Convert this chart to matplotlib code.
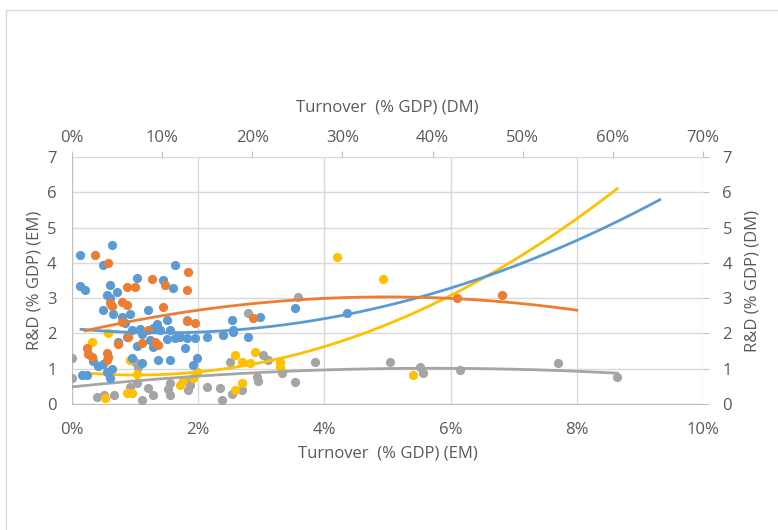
import numpy as np
import matplotlib
matplotlib.use("Agg")
import matplotlib.pyplot as plt
from matplotlib.patches import Rectangle
from matplotlib.ticker import FuncFormatter, MultipleLocator

plt.rcParams['font.family'] = ['Open Sans', 'DejaVu Sans']

# --- data ---
# DM series (top / right axes): turnover % GDP, R&D % GDP
blue_x = [0.89, 4.44, 3.44, 11.43, 7.21, 10.10, 0.89, 1.44, 4.22, 11.2, 3.88, 4.22, 5.0,
          3.44, 4.55, 5.55, 6.43, 8.43, 9.43, 10.54, 5.88, 6.66, 7.54, 8.99, 9.76, 10.87,
          11.98, 10.54, 8.65, 7.77, 6.10, 12.76, 13.65, 14.98, 16.75, 17.86, 17.75, 7.21,
          8.99, 12.54, 13.87, 10.87, 9.54, 6.66, 2.33, 2.88, 3.44, 4.44, 3.88, 1.11, 1.66,
          4.22, 13.43, 7.77, 11.43, 5.10, 19.53, 20.86, 24.74, 30.51, 17.86]
blue_y = [4.22, 4.50, 3.94, 3.94, 3.57, 3.51, 3.34, 3.23, 3.37, 3.29, 3.09, 3.00, 3.17,
          2.66, 2.55, 2.46, 2.55, 2.66, 2.27, 2.38, 2.29, 2.10, 2.12, 2.15, 2.10, 2.10,
          1.90, 1.84, 1.81, 1.98, 1.90, 1.87, 1.87, 1.90, 1.95, 2.10, 2.38, 1.64,
          1.61, 1.59, 1.30, 1.25, 1.25, 1.30, 1.22, 1.08, 1.13, 0.99, 0.91, 0.82, 0.82,
          0.74, 1.10, 1.16, 1.87, 1.76, 1.90, 2.46, 2.72, 2.58, 2.04]

orange_x = [2.55, 3.99, 12.87, 8.87, 6.10, 6.99, 10.32, 12.76, 4.22, 4.44, 5.55, 6.10,
            10.10, 5.55, 12.76, 13.65, 8.43, 6.21, 5.10, 7.77, 9.21, 9.54, 1.66, 1.78,
            2.22, 3.88, 3.99, 3.88, 20.08, 42.71, 47.70]
orange_y = [4.22, 3.99, 3.74, 3.54, 3.31, 3.31, 3.37, 3.23, 2.86, 2.78, 2.89, 2.80,
            2.75, 2.32, 2.35, 2.29, 2.10, 1.90, 1.70, 1.73, 1.76, 1.67, 1.59, 1.42,
            1.33, 1.44, 1.33, 1.25, 2.44, 3.00, 3.09]

# EM series (bottom / left axes)
gray_x = [0.0, 0.0, 0.40, 0.51, 0.67, 0.92, 1.03, 1.05, 1.00, 1.20, 1.11, 1.28, 1.55,
          1.52, 1.55, 1.82, 1.87, 1.84, 1.82, 2.14, 2.38, 2.54, 2.69, 2.35, 2.50, 2.79,
          2.93, 2.95, 3.03, 3.11, 3.33, 3.53, 3.58, 3.85, 5.04, 5.52, 5.56, 6.15, 7.70, 8.64]
gray_y = [1.30, 0.74, 0.20, 0.25, 0.25, 0.48, 0.59, 1.05, 1.19, 0.45, 0.11, 0.25, 0.25,
          0.42, 0.59, 0.68, 0.54, 0.40, 2.38, 0.48, 0.11, 0.28, 0.40, 0.45, 1.19, 2.58,
          0.76, 0.65, 1.39, 1.25, 0.88, 0.62, 3.03, 1.19, 1.19, 1.05, 0.88, 0.96, 1.16, 0.76]

yellow_x = [0.32, 0.52, 0.87, 0.95, 1.03, 1.76, 1.71, 1.92, 1.98, 0.57, 0.92, 2.39, 2.58,
            2.69, 2.82, 2.90, 3.30, 3.30, 2.58, 2.69, 4.20, 4.93, 5.40]
yellow_y = [1.76, 0.17, 0.31, 0.31, 0.85, 0.68, 0.54, 0.74, 0.91, 2.01, 1.25, 1.95, 1.39,
            1.19, 1.16, 1.47, 1.19, 1.05, 0.40, 0.59, 4.16, 3.54, 0.82]

# trend lines (order 2)
blue_trend_x = [1.0, 18.6, 29.0, 36.4, 44.2, 56.0, 65.2]
blue_trend_y = [2.12, 2.04, 2.58, 2.89, 3.43, 4.56, 5.84]
orange_trend_x = [1.44, 16.4, 36.4, 41.9, 56.0]
orange_trend_y = [2.07, 2.75, 3.02, 3.00, 2.66]
gray_trend_x = [0.0, 2.5, 5.2, 7.4, 8.64]
gray_trend_y = [0.48, 0.86, 1.00, 0.96, 0.88]
yellow_trend_x = [0.33, 2.35, 3.6, 5.04, 6.3, 8.0, 8.64]
yellow_trend_y = [0.88, 1.00, 1.33, 2.30, 3.43, 5.27, 6.06]

BLUE, ORANGE, GRAY, YELLOW = '#5B9BD5', '#ED7D31', '#A5A5A5', '#FFC000'
TXT = '#595959'
GRID = '#D9D9D9'
FS = 12


def trend(ax, xs, ys, color):
    c = np.polyfit(xs, ys, 2)
    xx = np.linspace(xs[0], xs[-1], 200)
    ax.plot(xx, np.polyval(c, xx), color=color, lw=2.0, zorder=4)


fig = plt.figure(figsize=(7.78, 5.30), dpi=100)
fig.patches.append(Rectangle((6 / 778, -0.1), 1.2, 1 - 10 / 530 + 0.1,
                             transform=fig.transFigure, fill=False,
                             edgecolor=GRID, lw=1.0))

pos = [72 / 778, 1 - 404 / 530, (703 - 72) / 778, (404 - 157) / 530]
ax = fig.add_axes(pos)
ax.set_xlim(0, 10)
ax.set_ylim(0, 7)
ax.xaxis.set_major_locator(MultipleLocator(2))
ax.yaxis.set_major_locator(MultipleLocator(1))
ax.xaxis.set_major_formatter(FuncFormatter(lambda v, p: f"{v:.0f}%"))
ax.grid(True, color=GRID, lw=1.0)
ax.set_axisbelow(True)
for s in ['top', 'right']:
    ax.spines[s].set_visible(False)
for s in ['left', 'bottom']:
    ax.spines[s].set_color('#BFBFBF')
ax.tick_params(length=0, labelsize=FS, labelcolor=TXT)
ax.tick_params(axis='x', pad=13)
ax.tick_params(axis='y', pad=11)
ax.set_xlabel('Turnover  (% GDP) (EM)', fontsize=FS, color=TXT, labelpad=5)
ax.set_ylabel('R&D (% GDP) (EM)', fontsize=FS, color=TXT, labelpad=3)

ax.scatter(gray_x, gray_y, s=44, color=GRAY, zorder=3, linewidths=0)
ax.scatter(yellow_x, yellow_y, s=44, color=YELLOW, zorder=3, linewidths=0)
trend(ax, gray_trend_x, gray_trend_y, GRAY)
trend(ax, yellow_trend_x, yellow_trend_y, YELLOW)

ax2 = fig.add_axes(pos, frameon=False)
ax2.patch.set_visible(False)
ax2.set_xlim(0, 70)
ax2.set_ylim(0, 7)
ax2.xaxis.tick_top()
ax2.xaxis.set_label_position('top')
ax2.yaxis.tick_right()
ax2.yaxis.set_label_position('right')
ax2.xaxis.set_major_locator(MultipleLocator(10))
ax2.yaxis.set_major_locator(MultipleLocator(1))
ax2.xaxis.set_major_formatter(FuncFormatter(lambda v, p: f"{v:.0f}%"))
ax2.spines['top'].set_visible(True)
ax2.spines['right'].set_visible(True)
ax2.spines['top'].set_color('#BFBFBF')
ax2.spines['right'].set_color('#BFBFBF')
ax2.tick_params(direction='out', length=4, color='#BFBFBF', labelsize=FS,
                labelcolor=TXT)
ax2.tick_params(axis='x', pad=4)
ax2.tick_params(axis='y', pad=10)
ax2.set_xlabel('Turnover  (% GDP) (DM)', fontsize=FS, color=TXT, labelpad=13)
ax2.set_ylabel('R&D (% GDP) (DM)', fontsize=FS, color=TXT, labelpad=9)

ax2.scatter(blue_x, blue_y, s=44, color=BLUE, zorder=3, linewidths=0)
ax2.scatter(orange_x, orange_y, s=44, color=ORANGE, zorder=3, linewidths=0)
trend(ax2, blue_trend_x, blue_trend_y, BLUE)
trend(ax2, orange_trend_x, orange_trend_y, ORANGE)

fig.savefig('out.png', dpi=100)
